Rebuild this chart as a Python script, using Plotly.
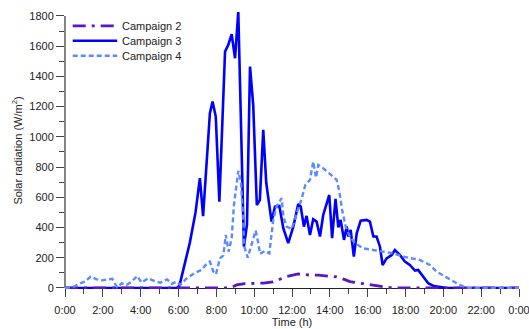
import plotly.graph_objects as go

# Hourly time axis (decimal hours) and measured global solar radiation, W/m2
c3_hours = [0.0, 5.9, 6.05, 6.25, 6.6, 6.9, 7.13, 7.3, 7.66, 7.8, 7.97, 8.16, 8.46, 8.63,
            8.81, 8.99, 9.16, 9.46, 9.62, 9.78, 9.95, 10.14, 10.3, 10.48, 10.64, 10.92,
            11.1, 11.33, 11.45, 11.54, 11.8, 12.07, 12.33, 12.46, 12.63, 12.77, 12.95,
            13.12, 13.3, 13.48, 13.65, 13.97, 14.12, 14.3, 14.45, 14.57, 14.75, 14.89,
            14.98, 15.1, 15.27, 15.42, 15.63, 15.94, 16.12, 16.3, 16.47, 16.65, 16.79,
            17.0, 17.27, 17.44, 17.71, 17.97, 18.23, 18.5, 18.67, 18.94, 19.2, 19.5,
            19.82, 20.2, 24.0]
c3_values = [0, 0, 15, 120, 300, 500, 726, 475, 1156, 1233, 1134, 571, 1564, 1608,
             1679, 1520, 1829, 273, 420, 1465, 1211, 549, 582, 1046, 693, 439,
             538, 543, 450, 395, 296, 406, 556, 538, 406, 477, 351,
             455, 439, 340, 483, 615, 330, 590, 400, 450, 318, 406,
             340, 384, 207, 362, 445, 450, 439, 340, 340, 273, 152,
             196, 218, 251, 218, 174, 152, 115, 119, 75, 31, 12,
             5, 0, 0]

c4_hours = [0.0, 0.1, 0.5, 0.7, 1.06, 1.35, 1.67, 1.94, 2.2, 2.5, 2.75, 3.0, 3.26, 3.52,
            3.82, 4.05, 4.4, 4.8, 5.05, 5.4, 5.64, 5.9, 6.1, 6.4, 6.87, 7.22, 7.49,
            7.66, 7.84, 7.98, 8.19, 8.37, 8.5, 8.65, 8.81, 8.93, 9.16, 9.3, 9.4, 9.48,
            9.66, 9.87, 10.08, 10.22, 10.31, 10.57, 10.8, 11.01, 11.19, 11.45, 11.55,
            11.72, 11.98, 12.24, 12.51, 12.7, 12.95, 13.12, 13.27, 13.39, 13.65, 14.0,
            14.36, 14.5, 14.65, 14.85, 15.06, 15.33, 15.77, 16.3, 16.82, 17.35, 17.88,
            18.41, 18.76, 19.29, 19.65, 20.17, 20.7, 21.14, 21.4, 24.0]
c4_values = [0, 0, 10, 25, 42, 75, 57, 50, 55, 60, 5, 31, 20, 42,
             79, 35, 64, 42, 35, 57, 28, 42, 20, 60, 100, 119, 160,
             174, 108, 90, 196, 215, 351, 240, 329, 549, 775, 700, 500, 273,
             200, 290, 380, 296, 225, 245, 229, 450, 540, 594, 470,
             406, 390, 490, 590, 680, 715, 836, 730, 814, 792, 755,
             715, 640, 516, 400, 340, 296, 262, 251, 240, 229, 207,
             196, 185, 152, 108, 70, 31, 5, 0, 0]

c2_hours = [0.0, 8.6, 8.9, 9.07, 9.5, 10.0, 10.48, 11.0, 11.3, 11.72, 12.33, 12.95,
            13.4, 13.74, 14.36, 14.8, 15.06, 15.77, 16.47, 17.0, 17.4, 24.0]
c2_values = [0, 0, 10, 20, 28, 30, 32, 40, 55, 75, 93, 85,
             85, 82, 73, 55, 42, 28, 13, 5, 0, 0]

x_tick_hours = list(range(0, 25, 2))
x_tick_text = ["0:00", "2:00", "4:00", "6:00", "8:00", "10:00", "12:00",
               "14:00", "16:00", "18:00", "20:00", "22:00", "0:00"]

names = ["Campaign 2", "Campaign 3", "Campaign 4"]

C2 = "#5B16C6"
C3 = "#0000FF"
C4 = "#5A8CFF"
DASH2 = "13px,6px,3px,6px"
DASH4 = "5px,3px"

FONT = "Arial, Liberation Sans, sans-serif"

fig = go.Figure()
fig.add_trace(go.Scatter(x=c3_hours, y=c3_values, mode="lines", name=names[1],
                         line=dict(color=C3, width=2.6)))
fig.add_trace(go.Scatter(x=c2_hours, y=c2_values, mode="lines", name=names[0],
                         line=dict(color=C2, width=2.8, dash=DASH2)))
fig.add_trace(go.Scatter(x=c4_hours, y=c4_values, mode="lines", name=names[2],
                         line=dict(color=C4, width=2.4, dash=DASH4)))

# Legend drawn as line samples plus labels in the upper-left corner
legend_rows = [(names[0], C2, DASH2, 2.8), (names[1], C3, "solid", 2.6), (names[2], C4, DASH4, 2.4)]
shapes = []
annotations = []
row_y = [0.950, 0.896, 0.842]
for (label, color, dash, w), yy in zip(legend_rows, row_y):
    shapes.append(dict(type="line", xref="paper", yref="paper", x0=0.017, x1=0.115,
                       y0=yy, y1=yy, line=dict(color=color, width=w, dash=dash)))
    annotations.append(dict(xref="paper", yref="paper", x=0.121, y=yy, text=label,
                            showarrow=False, xanchor="left", yanchor="middle",
                            font=dict(family=FONT, size=11, color="#222222")))

# Left axis line ends at the top labelled value
shapes.append(dict(type="line", xref="paper", yref="y", x0=0, x1=0, y0=0, y1=1800,
                   layer="below", line=dict(color="#333333", width=1.2)))

y_min, y_max = -7, 1826

fig.update_layout(
    width=529, height=329, autosize=False,
    margin=dict(l=65, r=10, t=12, b=40, autoexpand=False),
    paper_bgcolor="white", plot_bgcolor="white",
    showlegend=False,
    font=dict(family=FONT, size=11, color="#222222"),
    shapes=shapes, annotations=annotations,
    xaxis=dict(
        range=[0, 24], anchor="free", position=(0 - y_min) / (y_max - y_min),
        automargin=False,
        tickmode="array", tickvals=x_tick_hours, ticktext=x_tick_text,
        ticks="outside", ticklen=8, tickcolor="#444444", tickwidth=1,
        ticklabeloverflow="allow", ticklabelstandoff=4,
        showline=True, linecolor="#222222", linewidth=1.2,
        showgrid=False, zeroline=False, layer="below traces",
        minor=dict(tickmode="linear", tick0=1, dtick=2, ticks="outside", ticklen=5,
                   tickcolor="#444444", showgrid=False),
        title=dict(text="Time (h)", standoff=2, font=dict(size=11)),
        tickfont=dict(size=11),
    ),
    yaxis=dict(
        range=[y_min, y_max], automargin=False,
        tickmode="linear", tick0=0, dtick=200,
        ticks="outside", ticklen=8, tickcolor="#444444", tickwidth=1,
        showline=False, showgrid=False, zeroline=False, layer="below traces",
        minor=dict(tickmode="linear", tick0=0, dtick=100, ticks="outside", ticklen=5,
                   tickcolor="#444444", showgrid=False),
        title=dict(text="Solar radiation (W/m<sup>2</sup>)", standoff=4, font=dict(size=11)),
        tickfont=dict(size=11),
    ),
)

fig.write_html("out.html")
